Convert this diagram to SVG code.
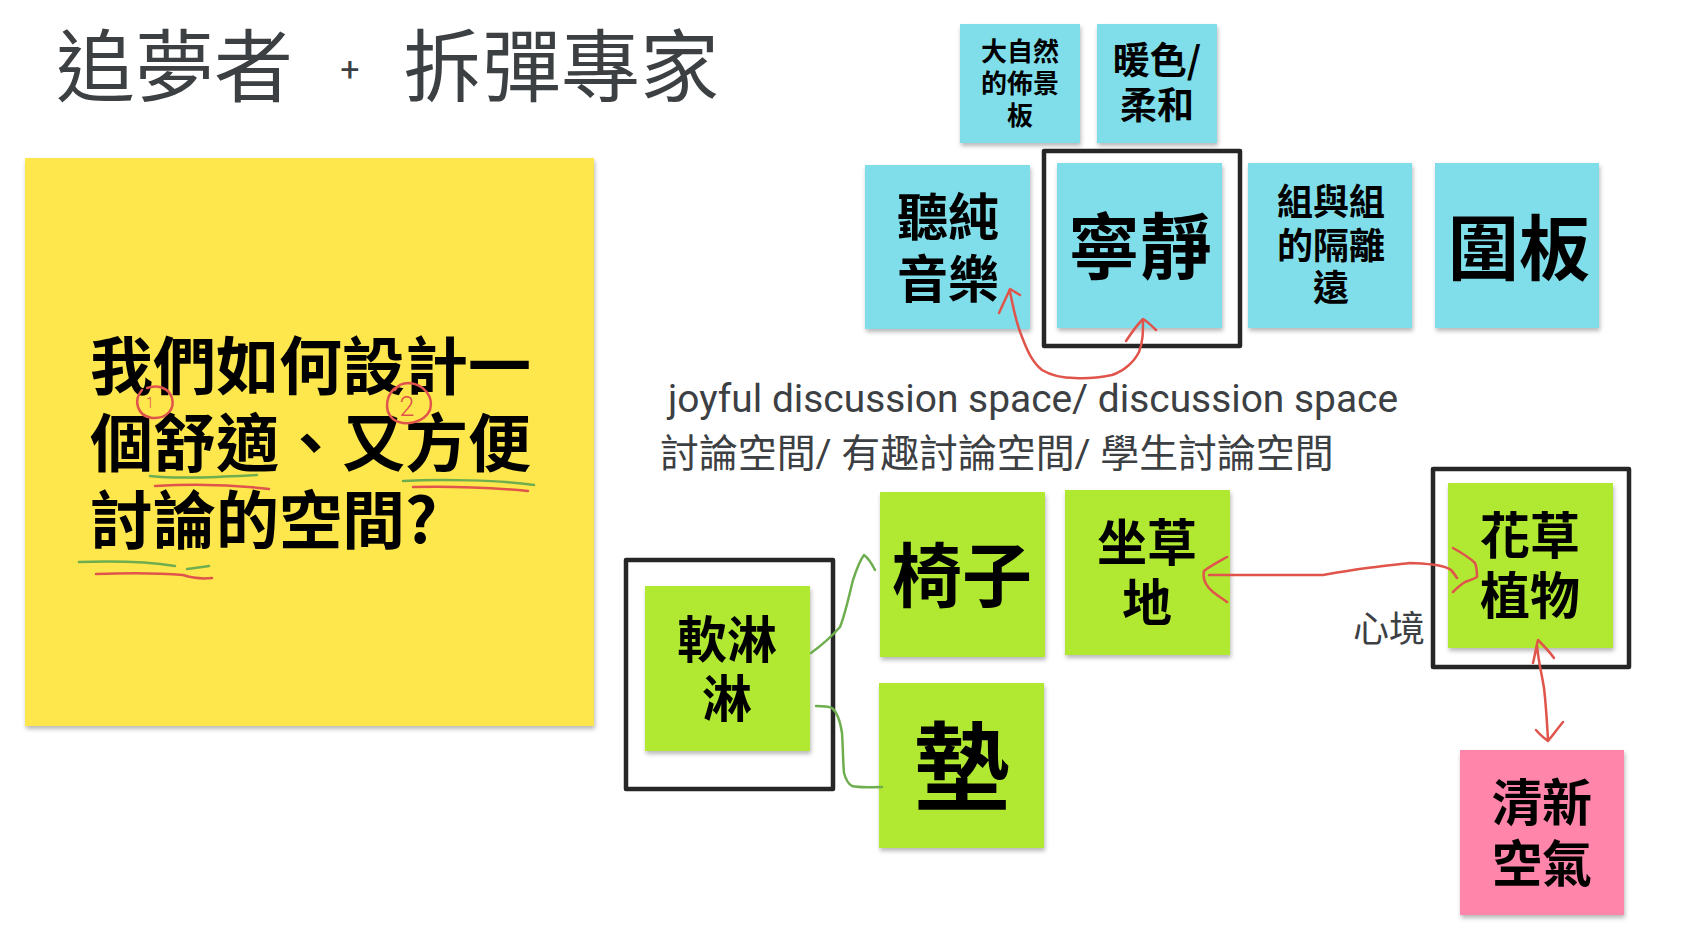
<svg xmlns="http://www.w3.org/2000/svg" width="1694" height="952" viewBox="0 0 1694 952">
<defs>
<filter id="sh" x="-10%" y="-10%" width="125%" height="125%">
<feDropShadow dx="1" dy="3" stdDeviation="2" flood-color="#000" flood-opacity="0.28"/>
</filter>
<style>
.title{font-family:"Noto Sans CJK TC","Noto Sans CJK SC",sans-serif;font-size:79px;fill:#3c4043;font-weight:400}
.sub{font-family:Roboto,"Noto Sans CJK TC",sans-serif;fill:#3c4043;font-weight:400}
.lbl{font-family:"Noto Sans CJK TC","Noto Sans CJK SC",sans-serif;font-weight:700;fill:#000;text-anchor:middle}
.q{font-family:"Noto Sans CJK TC","Noto Sans CJK SC",sans-serif;font-weight:700;fill:#000;font-size:63px}
.blue{fill:#80deea;filter:url(#sh)}
.green{fill:#b0e831;filter:url(#sh)}
.pink{fill:#ff85ab;filter:url(#sh)}
.yellow{fill:#fee74d;filter:url(#sh)}
.box{fill:none;stroke:#262626;stroke-width:4.5;stroke-linejoin:round}
.red{fill:none;stroke:#e0544b;stroke-width:2.5;stroke-linecap:round;stroke-linejoin:round}
.grn{fill:none;stroke:#6fae4f;stroke-width:2.5;stroke-linecap:round;stroke-linejoin:round}
.hand{font-family:Roboto,"Liberation Sans",sans-serif;font-weight:300;fill:#e0544b}
</style>
</defs>
<rect width="1694" height="952" fill="#fff"/>

<g id="title">
<text class="title" x="56" y="96">追夢者</text>
<text x="350" y="81" text-anchor="middle" style="font-family:Roboto,sans-serif;font-size:34px;fill:#3c4043">+</text>
<text class="title" x="403" y="96">拆彈專家</text>
</g>

<g id="question">
<rect class="yellow" x="25" y="158" width="569" height="568"/>
<text class="q" x="90" y="389">我們如何設計一</text>
<text class="q" x="90" y="466">個舒適、又方便</text>
<text class="q" x="90" y="543">討論的空間?</text>
<path class="red" d="M142,390 C133,400 137,416 152,418 C167,419 175,409 172,398 C169,388 157,384 147,388" stroke-width="2"/>
<text class="hand" x="150" y="408" font-size="14" text-anchor="middle">1</text>
<path class="red" d="M399,386 C386,392 383,410 393,419 C404,427 424,423 430,410 C434,397 424,384 409,383 C402,383 397,386 395,390" stroke-width="2"/>
<text class="hand" x="407" y="416" font-size="27" text-anchor="middle">2</text>
<path class="grn" d="M150,476 C180,479 215,477 257,475" stroke-width="2"/>
<path class="red" d="M155,486 C190,484 235,485 269,489" stroke-width="2"/>
<path class="grn" d="M403,481 C440,479 500,480 534,485" stroke-width="2"/>
<path class="red" d="M413,487 C450,486 495,488 528,491" stroke-width="2"/>
<path class="grn" d="M79,562 C110,561 150,562 175,566 M187,569 C195,568 202,567 209,566" stroke-width="2"/>
<path class="red" d="M96,574 C125,573 160,573 183,575 C192,578 202,579 212,578" stroke-width="2"/>
</g>

<g id="nature-board">
<rect class="blue" x="960" y="24" width="120" height="119"/>
<text class="lbl" font-size="26" x="1020"><tspan x="1020" y="61">大自然</tspan><tspan x="1020" y="93">的佈景</tspan><tspan x="1020" y="125">板</tspan></text>
</g>
<g id="warm-color">
<rect class="blue" x="1097" y="24" width="120" height="119"/>
<text class="lbl" font-size="37" x="1157"><tspan x="1157" y="74">暖色/</tspan><tspan x="1157" y="119">柔和</tspan></text>
</g>
<g id="music">
<rect class="blue" x="865" y="165" width="165" height="164"/>
<text class="lbl" font-size="51" x="948"><tspan x="948" y="236">聽純</tspan><tspan x="948" y="298">音樂</tspan></text>
</g>
<g id="quiet">
<rect class="blue" x="1057" y="163" width="165" height="165"/>
<text class="lbl" font-size="72" x="1140" y="273">寧靜</text>
<rect class="box" x="1044" y="151" width="196" height="195"/>
</g>
<g id="group-distance">
<rect class="blue" x="1248" y="163" width="164" height="165"/>
<text class="lbl" font-size="36" x="1331"><tspan x="1331" y="215">組與組</tspan><tspan x="1331" y="259">的隔離</tspan><tspan x="1331" y="301">遠</tspan></text>
</g>
<g id="fence">
<rect class="blue" x="1435" y="163" width="164" height="165"/>
<text class="lbl" font-size="71" x="1519" y="274">圍板</text>
</g>

<g id="text-lines">
<text class="sub" font-size="38.9" x="668" y="412">joyful discussion space/ discussion space</text>
<text class="sub" font-size="38.9" x="660" y="467">討論空間/ 有趣討論空間/ 學生討論空間</text>
</g>

<g id="soft">
<rect class="green" x="645" y="586" width="165" height="165"/>
<text class="lbl" font-size="50" x="727"><tspan x="727" y="658">軟淋</tspan><tspan x="727" y="717">淋</tspan></text>
<rect class="box" x="626" y="560" width="207" height="229"/>
</g>
<g id="chair">
<rect class="green" x="880" y="492" width="165" height="165"/>
<text class="lbl" font-size="70" x="962" y="602">椅子</text>
</g>
<g id="cushion">
<rect class="green" x="879" y="683" width="165" height="165"/>
<text class="lbl" font-size="96" x="962" y="802">墊</text>
</g>
<g id="lawn">
<rect class="green" x="1065" y="490" width="165" height="165"/>
<text class="lbl" font-size="50" x="1147"><tspan x="1147" y="561">坐草</tspan><tspan x="1147" y="621">地</tspan></text>
</g>
<g id="plants">
<rect class="green" x="1448" y="483" width="165" height="165"/>
<text class="lbl" font-size="50" x="1530"><tspan x="1530" y="554">花草</tspan><tspan x="1530" y="614">植物</tspan></text>
<rect class="box" x="1433" y="469" width="196" height="198"/>
</g>
<g id="fresh-air">
<rect class="pink" x="1460" y="750" width="164" height="165"/>
<text class="lbl" font-size="50" x="1542"><tspan x="1542" y="821">清新</tspan><tspan x="1542" y="882">空氣</tspan></text>
</g>
<g id="mood">
<text class="sub" font-size="36" x="1425" y="642" text-anchor="end">心境</text>
</g>

<g id="connectors">
<path class="red" d="M999,313 L1010,289 L1020,295 M1010,292 C1013,305 1015,320 1022,337 C1027,350 1032,362 1042,370 C1052,376 1062,378 1075,378 C1090,379 1102,377 1112,375 C1124,371 1134,362 1139,352 C1143,342 1143,332 1143,321 M1126,341 C1132,332 1137,325 1143,319 C1148,322 1152,326 1156,330"/>
<path class="red" d="M1227,557 C1218,562 1210,566 1204,571 C1202,580 1206,586 1213,592 C1218,596 1223,599 1227,602 M1209,575 L1323,575 C1340,572 1352,570 1367,568 C1385,566 1398,564 1410,563 C1420,563 1428,564 1436,565 C1442,566 1447,567 1451,570 C1453,572 1455,575 1457,578 M1453,548 C1462,553 1469,557 1475,563 C1477,568 1477,572 1477,577 C1472,580 1468,581 1465,582 C1460,585 1456,589 1453,592"/>
<path class="red" d="M1533,663 C1535,655 1536,647 1538,640 C1543,645 1549,651 1554,658 M1537,645 C1538,660 1542,675 1544,688 C1546,705 1547,722 1548,740 M1536,730 C1540,735 1544,738 1548,741 C1553,735 1558,728 1563,722"/>
<path class="grn" d="M811,653 C822,645 832,636 840,627 C845,615 848,600 853,580 C857,568 860,560 864,555 C868,558 872,564 875,570"/>
<path class="grn" d="M816,706 C822,706 828,706 832,708 C837,712 840,720 842,733 C843,748 843,762 844,773 C846,780 848,784 852,786 C860,788 870,787 882,787"/>
</g>
</svg>
